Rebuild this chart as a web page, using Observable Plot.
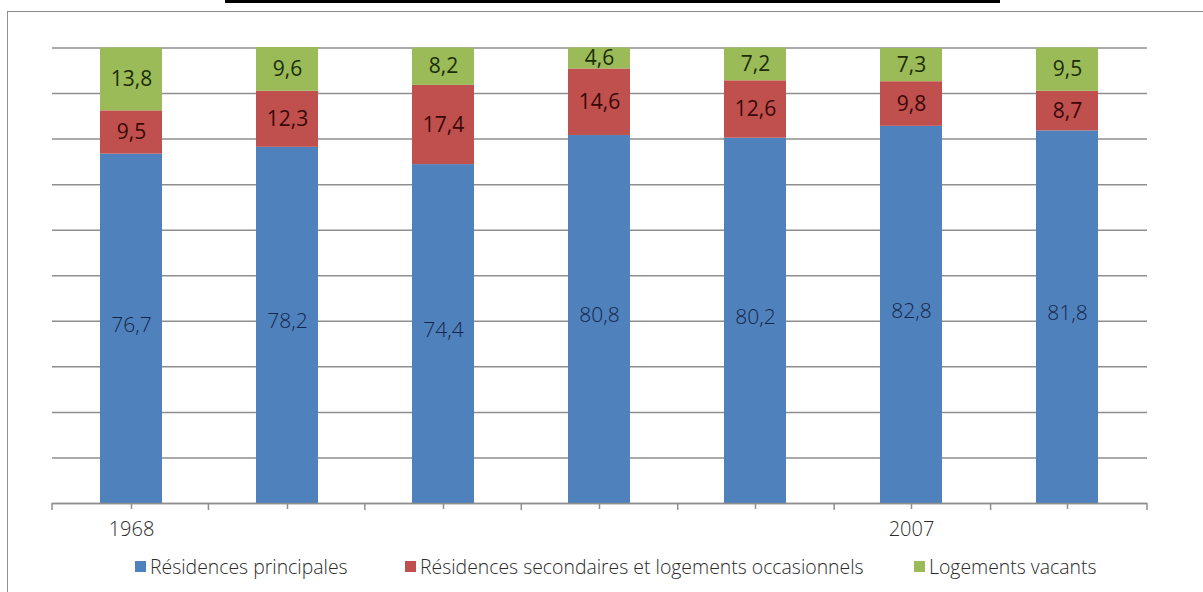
<!DOCTYPE html>
<html>
<head>
<meta charset="utf-8">
<script src="https://cdn.jsdelivr.net/npm/d3@7"></script>
<script src="https://cdn.jsdelivr.net/npm/@observablehq/plot@0.6"></script>
<style>
  html, body { margin: 0; padding: 0; background: #fff; }
  #page { position: relative; width: 1203px; height: 592px; overflow: hidden; }
  #titlebar { position: absolute; left: 225px; top: 0; width: 775px; height: 3px; background: #000; }
  #frame { position: absolute; left: 7px; top: 11px; width: 1210px; height: 600px;
           border-left: 1.5px solid #8e8e8e; border-top: 1.5px solid #8e8e8e; box-sizing: border-box; }
  #chart { position: absolute; left: 0; top: 0; }
  #legend { position: absolute; left: 0; top: 553px; width: 1203px;
            font-family: "Open Sans", sans-serif; font-weight: 300; font-size: 19.4px; color: #2a2a2a; }
  .item { position: absolute; display: flex; align-items: center; white-space: nowrap; }
  .sw { width: 11px; height: 11px; margin-right: 4px; }
</style>
</head>
<body>
<div id="page">
  <div id="titlebar"></div>
  <div id="frame"></div>
  <div id="chart"></div>
  <div id="legend"></div>
</div>
<script>
// Census years and housing shares (%)
const years = ["1968", "1975", "1982", "1990", "1999", "2007", "2012"];
const tickLabels = ["1968", "", "", "", "", "2007", ""];
const series = [
  "Résidences principales",
  "Résidences secondaires et logements occasionnels",
  "Logements vacants"
];
const principales = [76.7, 78.2, 74.4, 80.8, 80.2, 82.8, 81.8];
const secondaires = [9.5, 12.3, 17.4, 14.6, 12.6, 9.8, 8.7];
const vacants = [13.8, 9.6, 8.2, 4.6, 7.2, 7.3, 9.5];
const colors = ["#4f81bd", "#c0504d", "#9bbb59"];
const labelColors = ["#16264a", "#3a0808", "#1c2d08"];

// long table, stacked bottom to top in series order
const table = [];
[principales, secondaires, vacants].forEach((vals, s) => {
  vals.forEach((v, i) => table.push({year: years[i], series: series[s], value: v}));
});

const fmt = d => d3.format(".1f")(d).replace(".", ",");
const isMain = d => d.series === series[0];

// tick marks at the category boundaries, below the baseline
function boundaryTicks(index, scales, values, dims) {
  const {width, height, marginLeft, marginRight, marginBottom} = dims;
  const step = (width - marginLeft - marginRight) / years.length;
  const g = d3.create("svg:g").attr("stroke", "#8e8e8e").attr("stroke-width", 1.5);
  const y0 = height - marginBottom;
  for (let i = 0; i <= years.length; i++) {
    const x = marginLeft + i * step;
    g.append("line").attr("x1", x).attr("x2", x).attr("y1", y0).attr("y2", y0 + 7);
  }
  return g.node();
}

// value labels, centred in each stacked segment (stack first, then keep one group)
const labelOptions = (test, extra) => Plot.filter(test, Plot.stackY({
  x: "year", y: "value", z: "series",
  text: d => fmt(d.value),
  fill: d => labelColors[series.indexOf(d.series)],
  fontSize: 21,
  ...extra
}));

const chart = Plot.plot({
  width: 1203,
  height: 545,
  marginTop: 47.5,
  marginBottom: 42,
  marginLeft: 52,
  marginRight: 56,
  x: {domain: years, paddingInner: 0.6, paddingOuter: 0.3, label: null, axis: null},
  y: {domain: [0, 100], label: null, axis: null},
  color: {domain: series, range: colors},
  marks: [
    Plot.gridY({ticks: 10, stroke: "#8e8e8e", strokeOpacity: 1, strokeWidth: 1.5}),
    Plot.barY(table, {x: "year", y: "value", fill: "series"}),
    Plot.text(table, labelOptions(isMain, {fontFamily: "Open Sans", fontWeight: 300, dy: -4})),
    Plot.text(table, labelOptions(d => !isMain(d), {fontFamily: "Open Sans", fontWeight: 400})),
    Plot.axisX({
      tickSize: 6, tickPadding: 12, stroke: "#8e8e8e", strokeWidth: 1.5,
      tickFormat: d => tickLabels[years.indexOf(d)],
      fontSize: 20, fontFamily: "Open Sans", fontWeight: 300, fill: "#2a2a2a", lineAnchor: "top"
    }),
    Plot.ruleY([0], {stroke: "#8e8e8e", strokeWidth: 1.5}),
    boundaryTicks
  ],
  style: {background: "transparent", overflow: "visible"}
});
document.getElementById("chart").append(chart);

// legend below the plot
const legend = document.getElementById("legend");
const legendX = [135, 405, 914];
series.forEach((s, i) => {
  const item = document.createElement("div");
  item.className = "item";
  item.style.left = legendX[i] + "px";
  const sw = document.createElement("span");
  sw.className = "sw";
  sw.style.background = colors[i];
  const label = document.createElement("span");
  label.textContent = s;
  item.append(sw, label);
  legend.append(item);
});
</script>
</body>
</html>
